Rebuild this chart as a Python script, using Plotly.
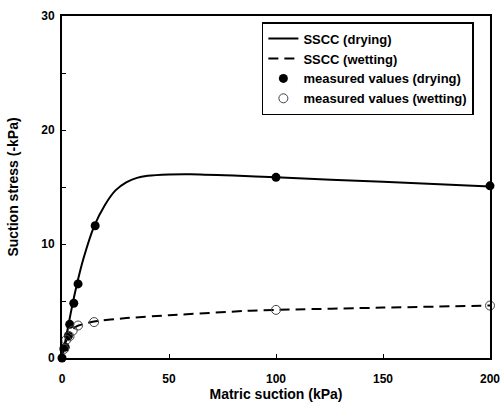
import plotly.graph_objects as go

# SSCC curves
dry_curve_x = [0, 1, 3, 5, 7, 10, 15, 20, 25, 30, 35, 40, 50, 60, 80, 100, 150, 200]
dry_curve_y = [0, 0.95, 2.9, 4.8, 6.5, 8.7, 11.55, 13.4, 14.7, 15.4, 15.8, 15.98, 16.1, 16.12, 16.0, 15.85, 15.45, 15.05]
wet_curve_x = [0, 1, 3, 5, 7, 15, 30, 50, 88, 100, 150, 200]
wet_curve_y = [0, 0.9, 2.0, 2.5, 2.8, 3.2, 3.5, 3.75, 4.15, 4.22, 4.42, 4.6]

# measured values
dry_x = [0, 1.5, 3, 3.6, 5.5, 7.5, 15.5, 100, 200]
dry_y = [0, 0.95, 1.95, 2.95, 4.8, 6.5, 11.6, 15.85, 15.1]
wet_x = [1, 2, 3.5, 5, 7.5, 15, 100, 200]
wet_y = [0.8, 1.6, 1.9, 2.4, 2.85, 3.15, 4.22, 4.6]

fig = go.Figure()
fig.add_trace(go.Scatter(x=dry_curve_x, y=dry_curve_y, mode="lines", name="SSCC (drying)",
                         line=dict(color="black", width=2, shape="spline", smoothing=0.6)))
fig.add_trace(go.Scatter(x=wet_curve_x, y=wet_curve_y, mode="lines", name="SSCC (wetting)",
                         line=dict(color="black", width=2, dash="10px,6px", shape="spline", smoothing=0.6)))
fig.add_trace(go.Scatter(x=dry_x, y=dry_y, mode="markers", name="measured values (drying)",
                         marker=dict(symbol="circle", size=9, color="black"), cliponaxis=False))
fig.add_trace(go.Scatter(x=wet_x, y=wet_y, mode="markers", name="measured values (wetting)",
                         marker=dict(symbol="circle-open", size=9, color="#444444", line=dict(width=1)),
                         cliponaxis=False))

fig.update_layout(
    width=501, height=405,
    margin=dict(l=62, r=11, t=16, b=47),
    paper_bgcolor="white", plot_bgcolor="white",
    font=dict(family="Liberation Sans, Arial, sans-serif", size=12, color="black", weight="bold"),
    showlegend=True,
    legend=dict(x=0.467, y=0.982, xanchor="left", yanchor="top",
                bordercolor="black", borderwidth=1.5, bgcolor="white",
                font=dict(size=13, weight="bold"), tracegroupgap=0,
                itemwidth=30),
)
fig.update_xaxes(range=[0, 200], tickvals=[0, 50, 100, 150, 200], ticks="inside", ticklen=4,
                 tickcolor="black", showline=True, linecolor="black", linewidth=2, mirror=True,
                 showgrid=False, zeroline=False, automargin=False, ticklabelstandoff=9,
                 title=dict(text="Matric suction (kPa)", standoff=4),
                 tickfont=dict(size=12, weight="bold"))
fig.update_yaxes(range=[0, 30], tickvals=[0, 10, 20, 30], ticks="inside", ticklen=4,
                 tickcolor="black", showline=True, linecolor="black", linewidth=2, mirror=True,
                 showgrid=False, zeroline=False, automargin=False, ticklabelstandoff=3,
                 minor=dict(dtick=5, ticks="inside", ticklen=4, tickcolor="black", showgrid=False),
                 title=dict(text="Suction stress (-kPa)", standoff=19),
                 tickfont=dict(size=12, weight="bold"))

fig.write_html("out.html", config={"displayModeBar": False},
               post_script="document.body.style.margin='0';")
